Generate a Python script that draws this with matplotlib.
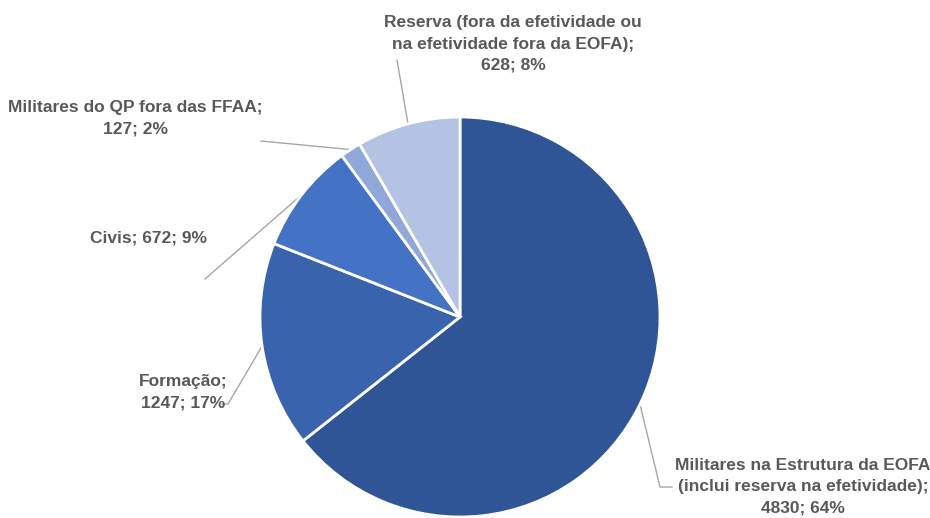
import numpy as np
import matplotlib.pyplot as plt
from matplotlib import font_manager

# ==================================================
# DATA
# ==================================================

labels = [
    "Militares na Estrutura da EOFA\n(inclui reserva na efetividade);",
    "Formação;",
    "Civis;",
    "Militares do QP fora das FFAA;",
    "Reserva (fora da efetividade ou\nna efetividade fora da EOFA);",
]
values = [4830, 1247, 672, 127, 628]
percents = [64, 17, 9, 2, 8]
colors = ["#2F5597", "#3A63AD", "#4472C4", "#8FA7D9", "#B4C2E3"]

# ==================================================
# FONT
# ==================================================

names = {f.name for f in font_manager.fontManager.ttflist}
fam = ["Liberation Sans Narrow", "DejaVu Sans"] if "Liberation Sans Narrow" in names else ["Liberation Sans", "DejaVu Sans"]
plt.rcParams['font.family'] = fam

# ==================================================
# FIGURE (pixel coordinates, y up)
# ==================================================

W, H = 930, 518
fig = plt.figure(figsize=(9.3, 5.18), dpi=100)
ax = fig.add_axes([0, 0, 1, 1])

cx, cy, r = 460, H - 317, 200

wedges, _ = ax.pie(
    values,
    colors=colors,
    startangle=90,
    counterclock=False,
    center=(cx, cy),
    radius=r,
    wedgeprops=dict(edgecolor='white', linewidth=2),
    frame=True,
)
ax.set_xlim(0, W)
ax.set_ylim(0, H)
ax.set_aspect('equal')
ax.axis('off')

# label text centre and leader end (in pixels from top)
text_pos = [(803, 487), (183, 392), (148, 238), (135, 118), (513, 44)]
leader_end = [[(660, 487), (672, 487)], [(228, 404), (222, 404)], [(205, 279)],
              [(261, 141)], [(397, 60)]]

line_color = "#A6A6A6"
text_color = "#595959"

for i, w in enumerate(wedges):
    ang = np.deg2rad((w.theta1 + w.theta2) / 2)
    x0 = cx + r * np.cos(ang)
    y0 = cy + r * np.sin(ang)
    xs = [x0] + [p[0] for p in leader_end[i]]
    ys = [y0] + [H - p[1] for p in leader_end[i]]
    ax.plot(xs, ys, color=line_color, linewidth=1, zorder=0)

    if i == 2:
        txt = f"{labels[i]} {values[i]}; {percents[i]}%"
    else:
        txt = f"{labels[i]}\n{values[i]}; {percents[i]}%"
    tx, ty = text_pos[i]
    ax.text(tx, H - ty, txt, ha='center', va='center', fontsize=12.5,
            fontweight='bold', color=text_color, linespacing=1.5)

plt.savefig("out.png", dpi=100)
